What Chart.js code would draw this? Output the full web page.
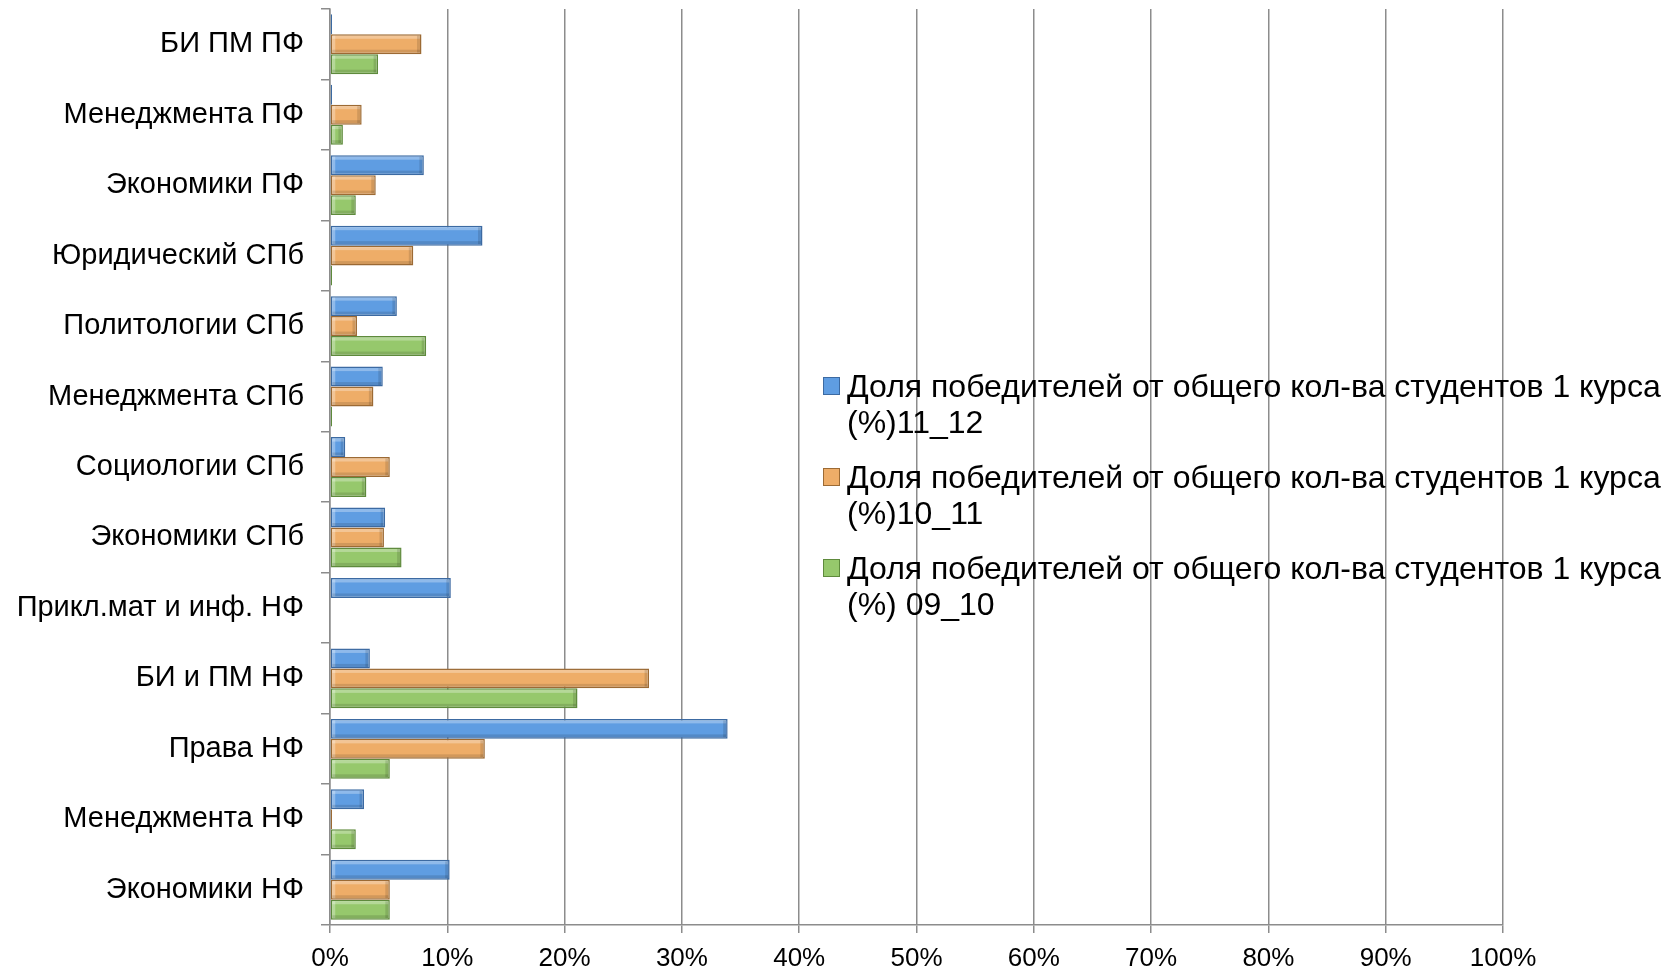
<!DOCTYPE html>
<html>
<head>
<meta charset="utf-8">
<script src="https://cdn.jsdelivr.net/npm/chart.js@4.4.0/dist/chart.umd.min.js"></script>
<style>
    body { margin: 0; background: #fff; }
    #wrap { position: relative; width: 1675px; height: 971px; }
    #legend {
        position: absolute; left: 823px; top: 368px;
        font-family: "Liberation Sans", Arial, sans-serif; font-size: 32px; color: #000;
    }
    .item { position: relative; padding-left: 24px; line-height: 36px; margin-bottom: 19px; white-space: nowrap; }
    .box { position: absolute; left: 0; top: 9px; width: 15px; height: 16px; border: 1px solid; }
</style>
</head>
<body>
<div id="wrap">
    <canvas id="barChart" width="1675" height="971"></canvas>
    <div id="legend"></div>
</div>
<script>
var categories = ["БИ ПМ ПФ", "Менеджмента ПФ", "Экономики ПФ", "Юридический СПб", "Политологии СПб",
    "Менеджмента СПб", "Социологии СПб", "Экономики СПб", "Прикл.мат и инф. НФ", "БИ и ПМ НФ",
    "Права НФ", "Менеджмента НФ", "Экономики НФ"];

var seriesNames = ["Доля победителей от общего кол-ва студентов 1 курса (%)11_12",
    "Доля победителей от общего кол-ва студентов 1 курса (%)10_11",
    "Доля победителей от общего кол-ва студентов 1 курса (%) 09_10"];

// values in percent
var share1112 = [0, 0, 8.0, 13.0, 5.7, 4.5, 1.3, 4.7, 10.3, 3.4, 33.9, 2.9, 10.2];
var share1011 = [7.8, 2.7, 3.9, 7.1, 2.3, 3.7, 5.1, 4.6, null, 27.2, 13.2, 0, 5.1];
var share0910 = [4.1, 1.1, 2.2, 0, 8.2, 0, 3.1, 6.1, null, 21.1, 5.1, 2.2, 5.1];

var fills = ["#5f9de2", "#eead68", "#96c86c"];
var edges = ["#3c6aa2", "#9c6a34", "#5e8a3c"];

var fontFamily = '"Liberation Sans", Arial, sans-serif';
var gridGray = "#8c8c8c";

var ctx = document.getElementById("barChart").getContext("2d");

function makeSet(i, values) {
    return {
        label: seriesNames[i],
        data: values,
        backgroundColor: fills[i],
        borderColor: edges[i],
        borderWidth: 1.5,
        borderSkipped: false,
        minBarLength: 2,
        categoryPercentage: 0.85,
        barPercentage: 1.0
    };
}

// soft bevel on the bars (light top edge, darker bottom and end)
var bevel = {
    id: 'bevel',
    afterDatasetsDraw: function (chart) {
        var c = chart.ctx;
        chart.data.datasets.forEach(function (ds, i) {
            chart.getDatasetMeta(i).data.forEach(function (bar) {
                var left = Math.min(bar.x, bar.base), w = Math.abs(bar.x - bar.base);
                var top = bar.y - bar.height / 2, h = bar.height;
                if (w < 6) return;
                c.save();
                c.fillStyle = 'rgba(255,255,255,0.30)';
                c.fillRect(left + 1.5, top + 1.5, w - 3, 3);
                c.fillRect(left + 1.5, top + 1.5, 3, h - 3);
                c.fillStyle = 'rgba(0,0,0,0.12)';
                c.fillRect(left + 1.5, top + h - 4.5, w - 3, 3);
                c.fillRect(left + w - 4.5, top + 1.5, 3, h - 3);
                c.restore();
            });
        });
    }
};

var barChart = new Chart(ctx, {
    type: 'bar',
    data: {
        labels: categories,
        datasets: [makeSet(0, share1112), makeSet(1, share1011), makeSet(2, share0910)]
    },
    options: {
        indexAxis: 'y',
        responsive: false,
        animation: false,
        layout: { padding: { top: 9, right: 172, left: 0, bottom: 0 } },
        plugins: {
            legend: { display: false },
            tooltip: { enabled: false }
        },
        scales: {
            x: {
                min: 0,
                max: 100,
                ticks: {
                    stepSize: 10,
                    color: "#000",
                    padding: 10,
                    font: { family: fontFamily, size: 26 },
                    callback: function (v) { return v + '%'; }
                },
                grid: { color: gridGray, lineWidth: 1.5, tickLength: 8 },
                border: { color: gridGray, width: 1.5 },
                afterFit: function (scale) { scale.height = 46; }
            },
            y: {
                ticks: {
                    color: "#000",
                    padding: 17,
                    font: { family: fontFamily, size: 29 }
                },
                grid: { drawOnChartArea: false, color: gridGray, lineWidth: 1.5, tickLength: 9, offset: true },
                border: { color: gridGray, width: 1.5 },
                afterFit: function (scale) {
                    scale.width = 330;
                    scale.paddingTop = 0;
                    scale.paddingBottom = 0;
                }
            }
        }
    },
    plugins: [bevel]
});

// legend sits over the plot, like in the original
var legendDiv = document.getElementById("legend");
barChart.data.datasets.forEach(function (ds) {
    var cut = ds.label.indexOf("(%)");
    var item = document.createElement("div");
    item.className = "item";
    item.innerHTML = '<span class="box" style="background:' + ds.backgroundColor +
        ';border-color:' + ds.borderColor + '"></span>' +
        ds.label.substring(0, cut).trim() + '<br>' + ds.label.substring(cut);
    legendDiv.appendChild(item);
});
</script>
</body>
</html>
